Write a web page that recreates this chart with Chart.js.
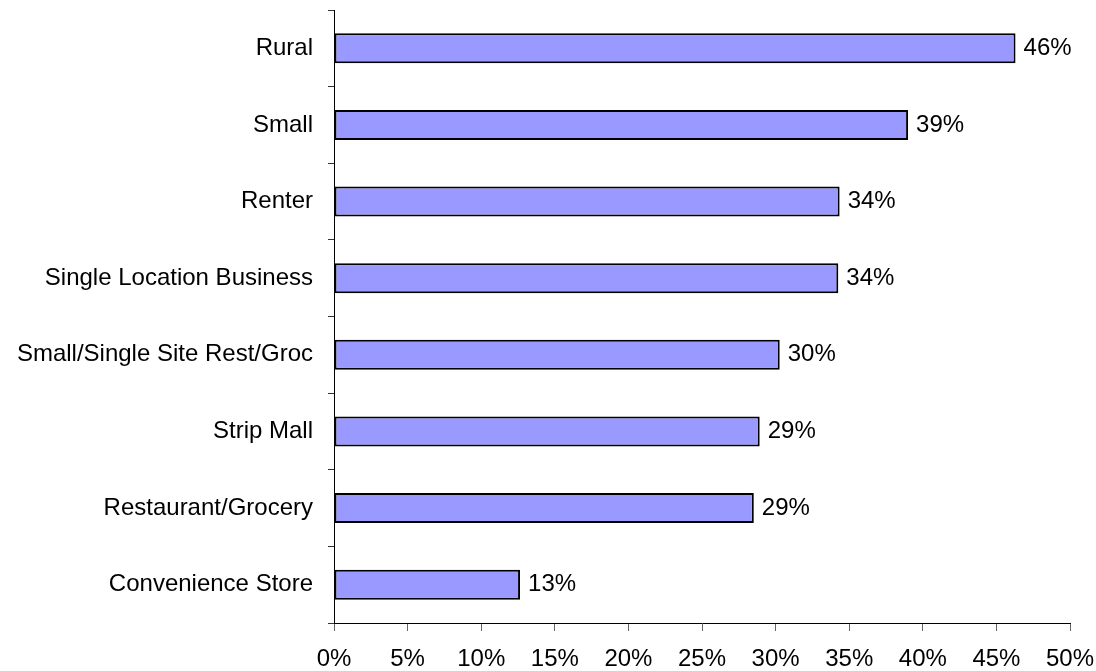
<!DOCTYPE html>
<html>
<head>
<meta charset="utf-8">
<script src="https://cdn.jsdelivr.net/npm/chart.js@4/dist/chart.umd.min.js"></script>
<style>
    html, body { margin: 0; padding: 0; background: #fff; }
    #wrap { width: 1096px; height: 671px; }
</style>
</head>
<body>
<div id="wrap"><canvas id="barChart"></canvas></div>
<script>
// segments and their share (%)
const categories = [
    "Rural",
    "Small",
    "Renter",
    "Single Location Business",
    "Small/Single Site Rest/Groc",
    "Strip Mall",
    "Restaurant/Grocery",
    "Convenience Store"
];
const shares = [46.3, 39.0, 34.35, 34.26, 30.28, 28.92, 28.52, 12.64];
const xTicks = [0, 5, 10, 15, 20, 25, 30, 35, 40, 45, 50];

const labelFont = { family: "'Liberation Sans', Arial, sans-serif", size: 24 };

// value labels at the end of each bar
const barValueLabels = {
    id: "barValueLabels",
    afterDatasetsDraw(chart) {
        const ctx = chart.ctx;
        const meta = chart.getDatasetMeta(0);
        ctx.save();
        ctx.font = labelFont.size + "px " + labelFont.family;
        ctx.fillStyle = "#000";
        ctx.textAlign = "left";
        ctx.textBaseline = "middle";
        meta.data.forEach((bar, i) => {
            ctx.fillText(Math.round(shares[i]) + "%", bar.x + 8, bar.y);
        });
        ctx.restore();
    }
};

// keep the plot area where we put it, no extra room for edge labels
function noEdgePadding(scale) {
    scale.paddingTop = 0;
    scale.paddingBottom = 0;
    scale.paddingLeft = 0;
    scale.paddingRight = 0;
}

const ctx = document.getElementById("barChart").getContext("2d");
const barChart = new Chart(ctx, {
    type: "bar",
    data: {
        labels: categories,
        datasets: [{
            data: shares,
            backgroundColor: "#9999ff",
            borderColor: "#000",
            borderWidth: 2,
            borderSkipped: false,
            categoryPercentage: 1,
            barPercentage: 0.39
        }]
    },
    options: {
        indexAxis: "y",
        responsive: true,
        maintainAspectRatio: false,
        animation: false,
        layout: { padding: { top: 10, right: 26, left: 0, bottom: 0 } },
        plugins: {
            legend: { display: false },
            tooltip: { enabled: false }
        },
        scales: {
            x: {
                min: 0,
                max: 50,
                afterBuildTicks: (scale) => {
                    scale.ticks = xTicks.map(v => ({ value: v }));
                },
                afterFit: (scale) => {
                    scale.height = 48;
                    noEdgePadding(scale);
                },
                border: { color: "#000", width: 1 },
                grid: {
                    drawOnChartArea: false,
                    tickLength: 8,
                    color: "#666"
                },
                ticks: {
                    color: "#000",
                    font: labelFont,
                    padding: 14,
                    maxRotation: 0,
                    callback: (v) => v + "%"
                }
            },
            y: {
                afterFit: (scale) => {
                    scale.width = 334;
                    noEdgePadding(scale);
                },
                border: { color: "#000", width: 1 },
                grid: {
                    drawOnChartArea: false,
                    offset: true,
                    tickLength: 6,
                    color: "#333"
                },
                ticks: {
                    color: "#000",
                    font: labelFont,
                    padding: 15
                }
            }
        }
    },
    plugins: [barValueLabels]
});
</script>
</body>
</html>
